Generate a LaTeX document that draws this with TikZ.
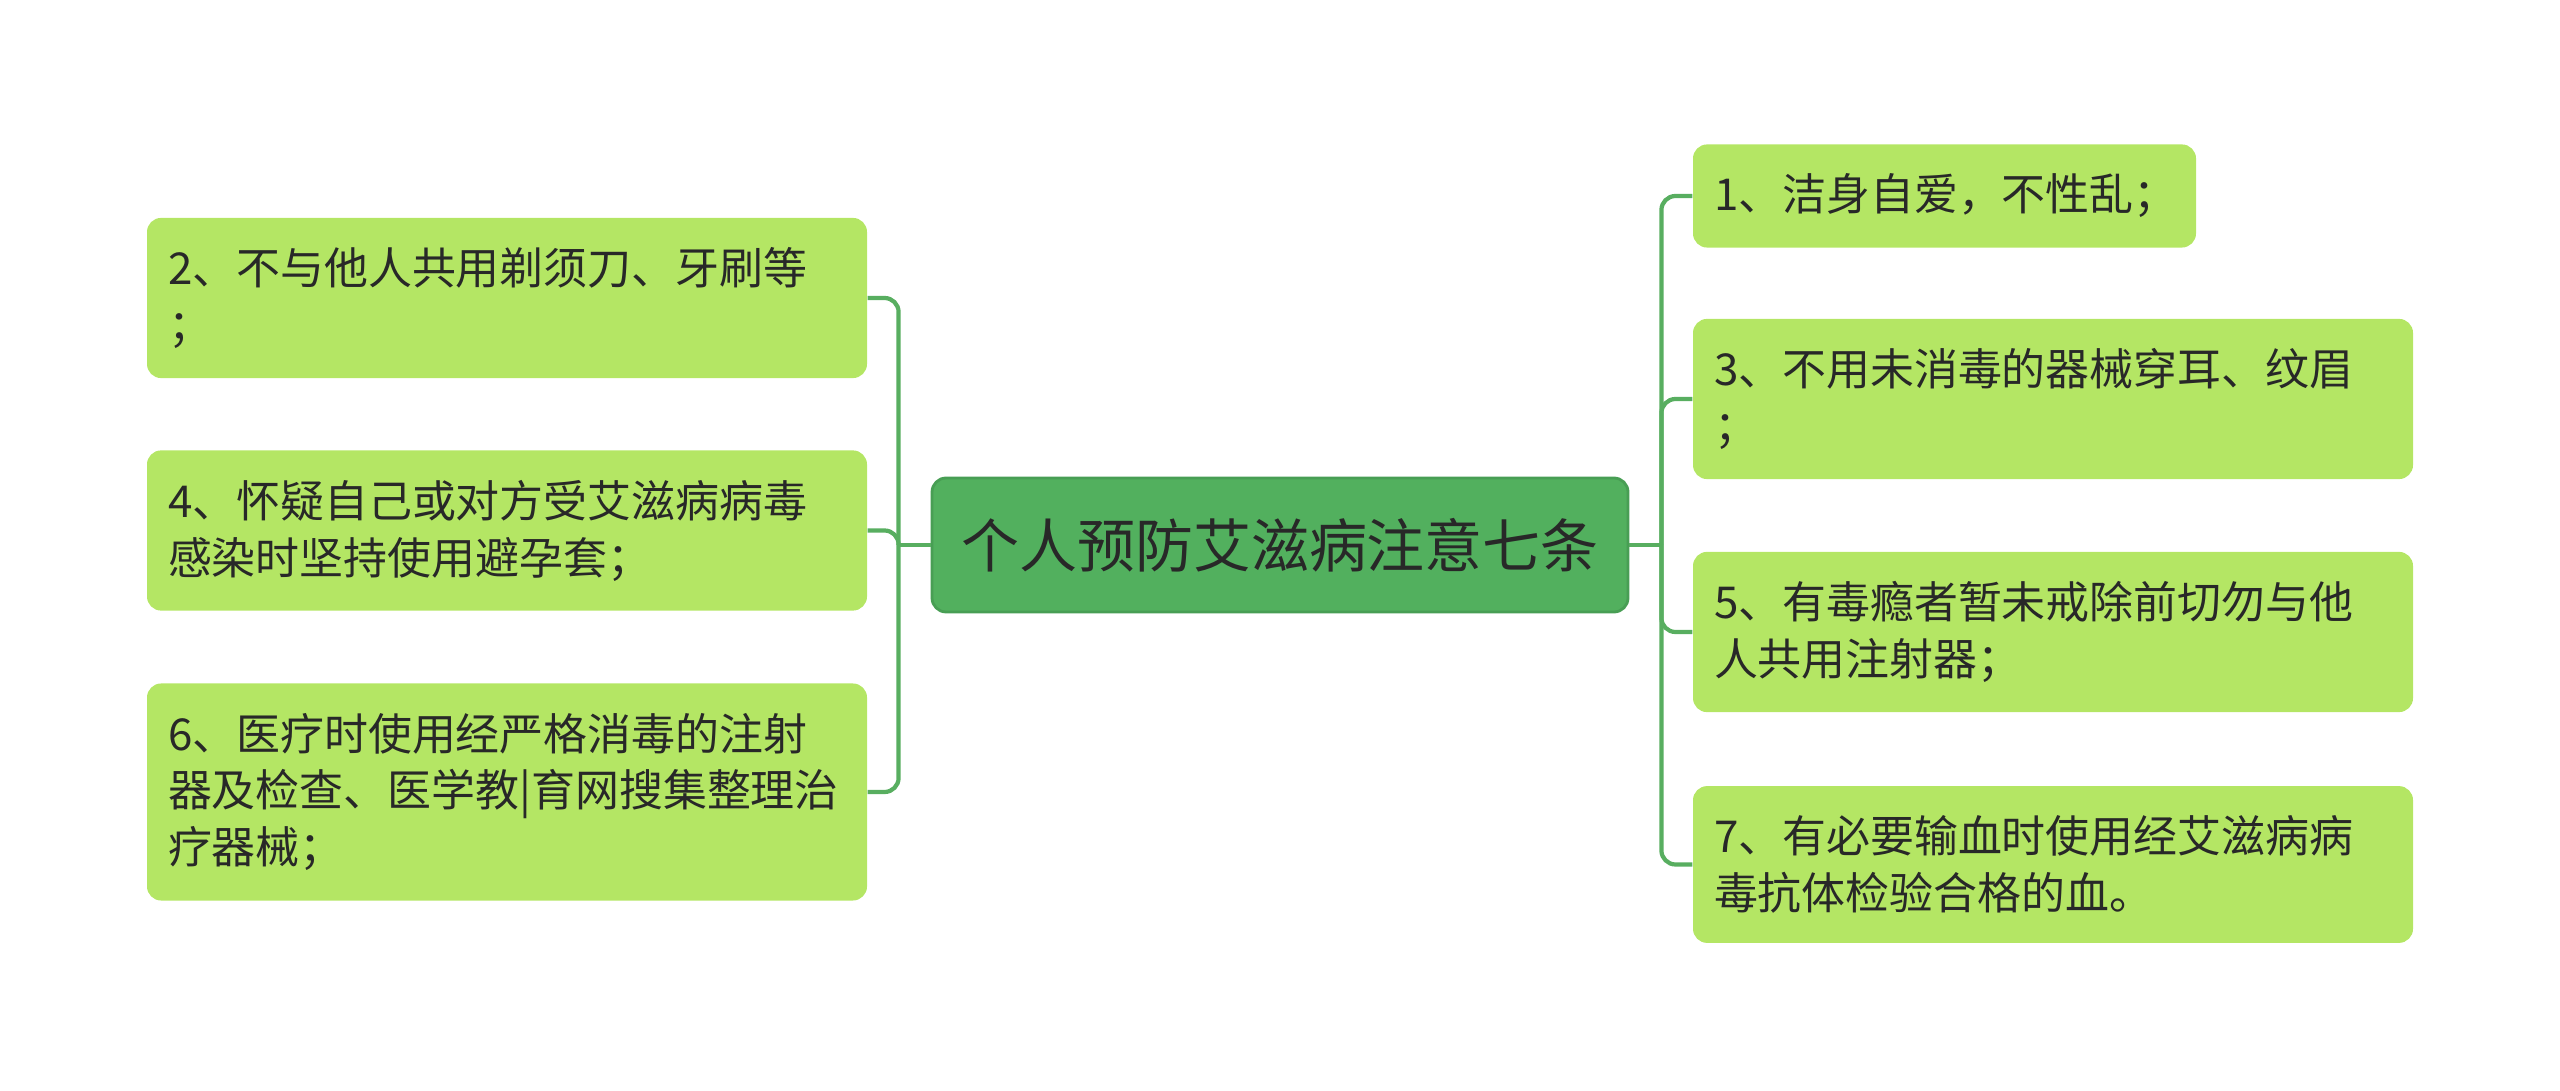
\documentclass[tikz,border=0pt]{standalone}
\usepackage{fontspec}
\usepackage{xcolor}
\usetikzlibrary{positioning,calc}
\newfontfamily\cjk{Noto Sans CJK SC}
\definecolor{rootfill}{RGB}{82,176,94}
\definecolor{rootdraw}{RGB}{72,158,84}
\definecolor{leaffill}{RGB}{180,230,100}
\definecolor{linkgreen}{RGB}{88,174,96}
\definecolor{inkgray}{RGB}{40,40,40}

\begin{document}
\begin{tikzpicture}[
    font=\cjk,
    text=inkgray,
    rootbox/.style={draw=rootdraw, fill=rootfill, rounded corners=4pt, line width=0.8pt,
      minimum width=6.96cm, minimum height=1.34cm, inner sep=0pt,
      font=\cjk\fontsize{16.5pt}{20pt}\selectfont},
    leaf/.style={fill=leaffill, rounded corners=4pt, align=left, text width=6.78cm,
      inner xsep=0.21cm, inner ysep=0.295cm,
      font=\cjk\fontsize{12.5pt}{16.2pt}\selectfont},
    link/.style={draw=linkgreen, line width=1.2pt, rounded corners=4pt}
]
\useasboundingbox (0,0) rectangle (25.6,10.91);
% centre
\node[rootbox] (root) at (12.80,5.46) {个人预防艾滋病注意七条};
% left side
\node[leaf] (t2) at (5.07,7.93) {2、不与他人共用剃须刀、牙刷等\\；};
\node[leaf] (t4) at (5.07,5.605) {4、怀疑自己或对方受艾滋病病毒\\感染时坚持使用避孕套；};
\node[leaf] (t6) at (5.07,2.99) {6、医疗时使用经严格消毒的注射\\器及检查、医学教|育网搜集整理治\\疗器械；};
% right side
\node[leaf, text width=4.61cm] (t1) at (19.445,8.95) {1、洁身自爱，不性乱；};
\node[leaf] (t3) at (20.53,6.92) {3、不用未消毒的器械穿耳、纹眉\\；};
\node[leaf] (t5) at (20.53,4.59) {5、有毒瘾者暂未戒除前切勿与他\\人共用注射器；};
\node[leaf] (t7) at (20.53,2.265) {7、有必要输血时使用经艾滋病病\\毒抗体检验合格的血。};
% connectors
\draw[link] (root.west) -- ++(-0.32,0) coordinate (lj);
\draw[link] (root.east) -- ++(0.32,0) coordinate (rj);
\foreach \n in {t2,t4,t6}
  \draw[link] (lj) |- (\n.east);
\foreach \n in {t1,t3,t5,t7}
  \draw[link] (rj) |- (\n.west);
\end{tikzpicture}
\end{document}
